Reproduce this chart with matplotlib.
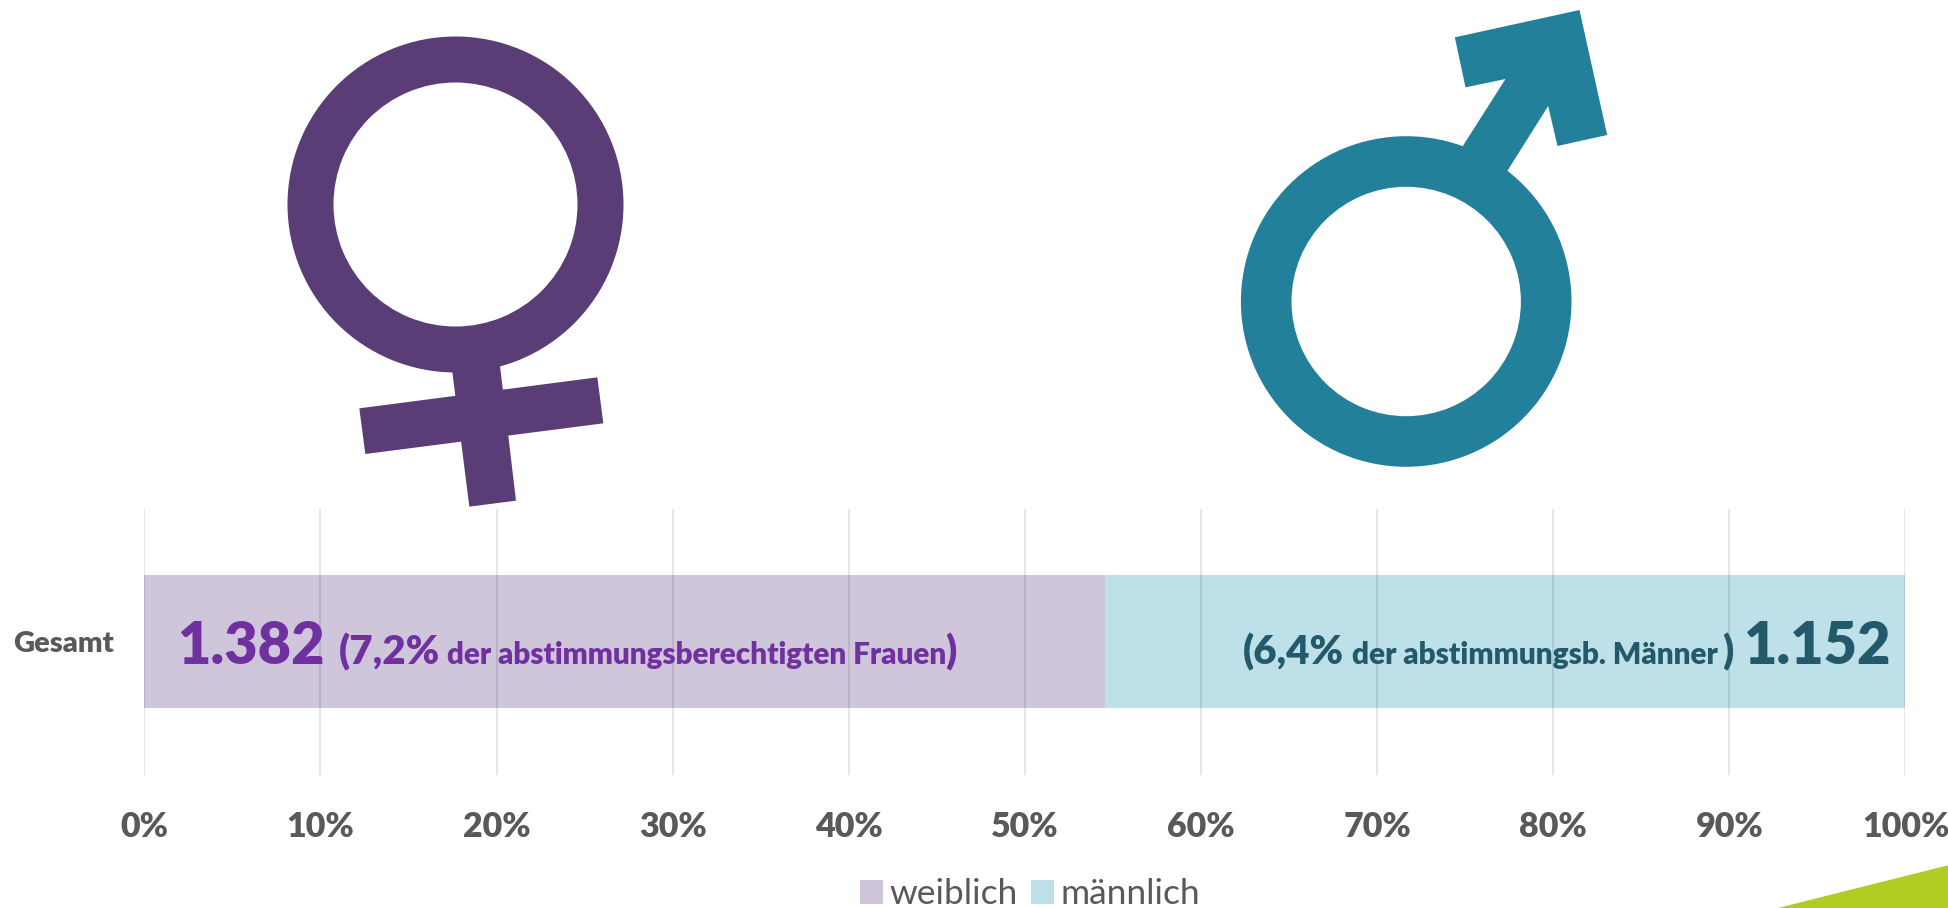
import matplotlib
matplotlib.use('Agg')
import matplotlib.pyplot as plt
from matplotlib.patches import Wedge, Polygon

plt.rcParams['font.family'] = ['Lato', 'DejaVu Sans']

W, H = 1949, 908

categories = ['Gesamt']
series_names = ['weiblich', 'männlich']
women = [1382]
men = [1152]
x_ticks = [0, 10, 20, 30, 40, 50, 60, 70, 80, 90, 100]
x_tick_labels = ['0%', '10%', '20%', '30%', '40%', '50%', '60%', '70%', '80%', '90%', '100%']

GREY = '#595959'
PURPLE = '#7030A0'
DARK_TEAL = '#225A6B'
SYMBOL_F = '#5A3C76'
SYMBOL_M = '#23809A'

fig = plt.figure(figsize=(W / 100, H / 100), dpi=100, facecolor='white')

# main chart, positioned in pixels of the reference
left, right, top, bottom = 144.3, 1905.5, 508.5, 774.5
ax = fig.add_axes([left / W, 1 - bottom / H, (right - left) / W, (bottom - top) / H])

share_w = [100 * a / (a + b) for a, b in zip(women, men)]
share_m = [100 * b / (a + b) for a, b in zip(women, men)]
bar_w = ax.barh(categories, share_w, height=0.5, color='#CFC6DB', label=series_names[0], zorder=1)
bar_m = ax.barh(categories, share_m, left=share_w, height=0.5, color='#BEE0E9', label=series_names[1], zorder=1)

ax.set_xlim(0, 100)
ax.set_ylim(-0.5, 0.5)
ax.set_xticks(x_ticks)
ax.set_xticklabels(x_tick_labels, fontsize=24.5, fontweight='heavy', color=GREY)
ax.tick_params(axis='x', length=0, pad=26)
ax.tick_params(axis='y', length=0, pad=22)
for lab in ax.get_yticklabels():
    lab.set_fontsize(21)
    lab.set_fontweight('heavy')
    lab.set_color(GREY)
ax.grid(axis='x', color='black', alpha=0.1, lw=1.4, zorder=2)
ax.set_axisbelow(False)
for s in ax.spines.values():
    s.set_visible(False)

fig.legend(handles=[bar_w, bar_m], labels=series_names, loc='lower left',
           bbox_to_anchor=(835 / W, -27 / H), ncol=2, frameon=False, fontsize=25.5,
           labelcolor=GREY, handlelength=0.65, handleheight=0.65, handletextpad=0.19,
           columnspacing=0.36, borderpad=0.2)

# overlay in pixel coordinates for symbols and value labels
ov = fig.add_axes([0, 0, 1, 1], facecolor='none')
ov.set_xlim(0, W)
ov.set_ylim(H, 0)
ov.axis('off')

# corner decoration
ov.add_patch(Polygon([(1778, 908), (1949, 865), (1949, 908)], color='#B2CC22', lw=0))

# female symbol
ov.add_patch(Wedge((455.5, 204.5), 168, 0, 360, width=46, color=SYMBOL_F, lw=0))
f_stem = [(568, 985), (712, 970), (768, 1442), (628, 1460)]
f_bar = [(298, 1165), (1012, 1072), (1030, 1210), (316, 1302)]
for pts in (f_stem, f_bar):
    ov.add_patch(Polygon([(x / 3 + 260, y / 3 + 20) for x, y in pts], color=SYMBOL_F, lw=0))

# male symbol
ov.add_patch(Wedge((1406.2, 301.5), 165.3, 0, 360, width=50.6, color=SYMBOL_M, lw=0))
m_arrow = [(706, 112), (1080, 30), (1163, 405), (1014, 438), (986, 318), (864, 512),
           (800, 560), (730, 438), (858, 237), (738, 262)]
ov.add_patch(Polygon([(x / 3 + 1219.5, y / 3) for x, y in m_arrow], color=SYMBOL_M, lw=0))

# value labels, one run per size
BASE = 664
runs = [
    (177, '1.382', 41.5, PURPLE),
    (339, '(7,2%', 29, PURPLE),
    (447, 'der abstimmungsberechtigten Frauen', 21.3, PURPLE),
    (945, ')', 29, PURPLE),
    (1243, '(6,4%', 29, DARK_TEAL),
    (1352, 'der abstimmungsb. Männer', 21.4, DARK_TEAL),
    (1722, ')', 29, DARK_TEAL),
    (1743, '1.152', 41.5, DARK_TEAL),
]
for x, s, size, col in runs:
    ov.text(x, BASE, s, fontsize=size, fontweight='heavy', color=col, va='baseline', ha='left')

fig.savefig('out.png', dpi=100)
